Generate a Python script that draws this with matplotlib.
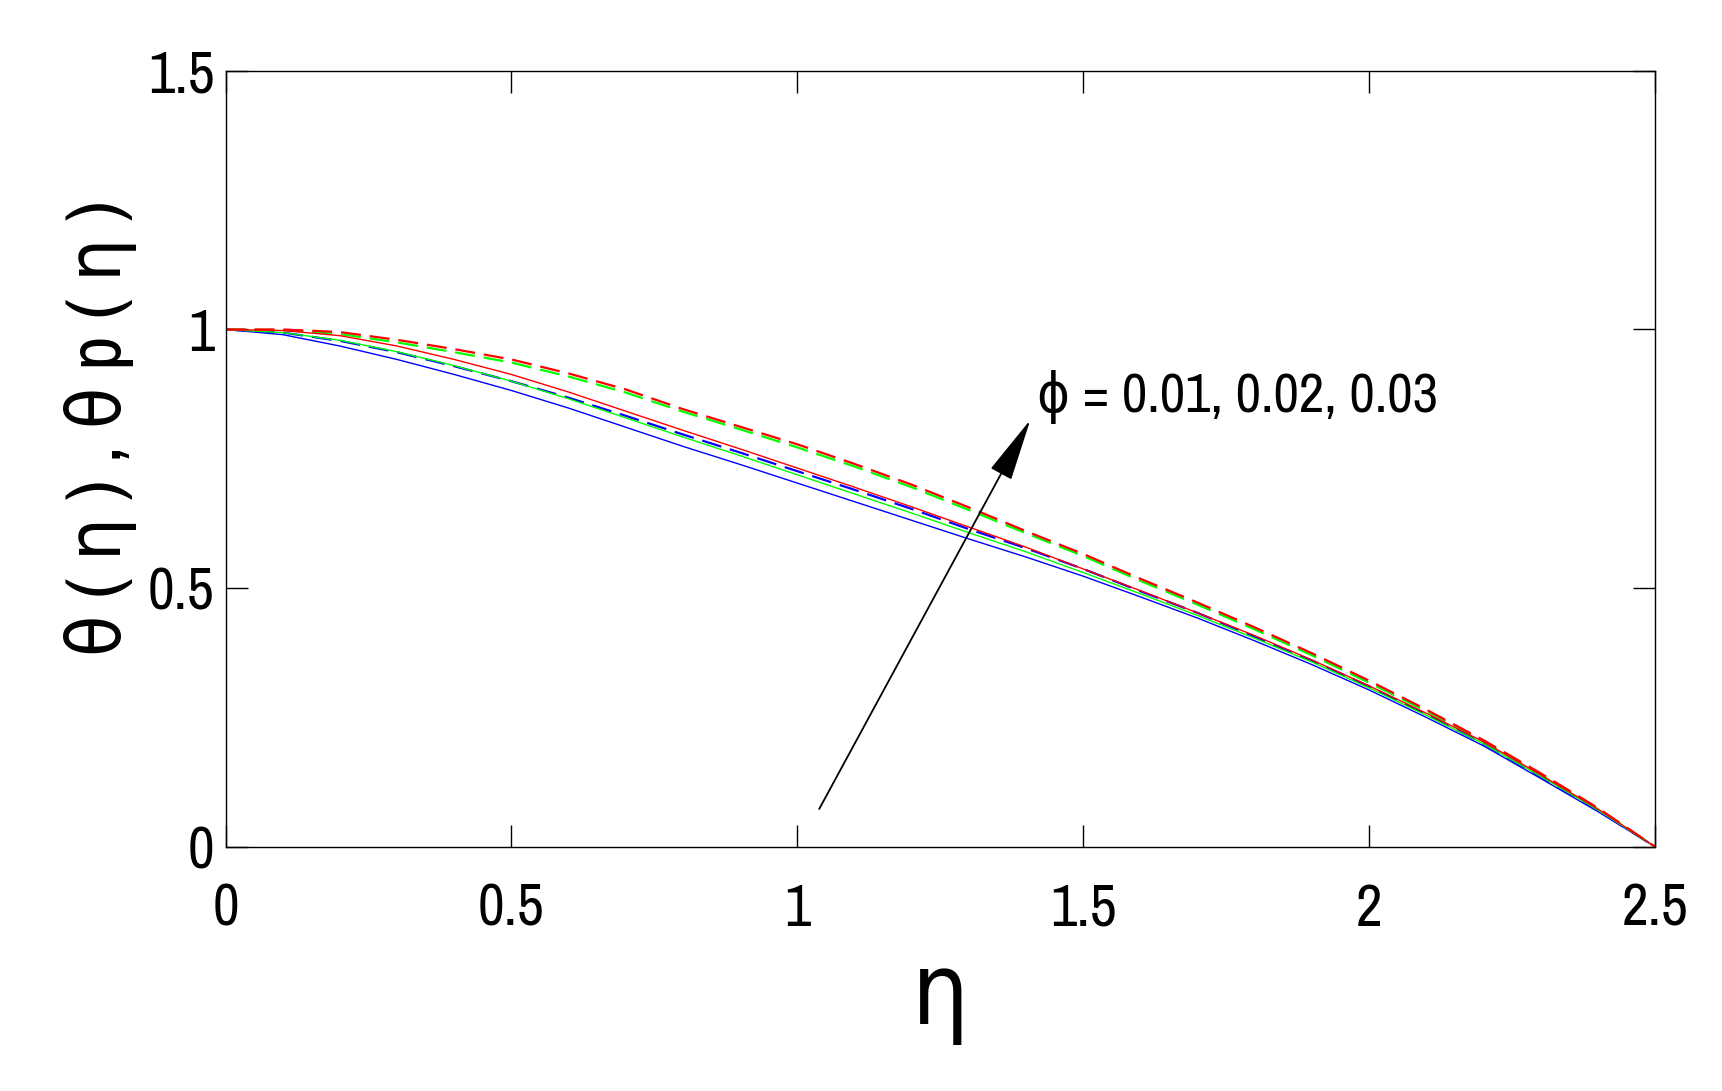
import numpy as np
import matplotlib
matplotlib.use('Agg')
import matplotlib.pyplot as plt
from matplotlib import font_manager

# eta grid and curves (step 0.1)
eta = [0.0, 0.1, 0.2, 0.3, 0.4, 0.5, 0.6, 0.7, 0.8, 0.9, 1.0, 1.1, 1.2,
       1.3, 1.4, 1.5, 1.6, 1.7, 1.8, 1.9, 2.0, 2.1, 2.2, 2.3, 2.4, 2.5]

# theta(eta), solid lines
theta_001 = [1.000, 0.990, 0.968, 0.942, 0.913, 0.882, 0.848, 0.811, 0.774,
             0.739, 0.703, 0.667, 0.631, 0.595, 0.560, 0.523, 0.483, 0.442,
             0.398, 0.352, 0.303, 0.250, 0.195, 0.132, 0.068, 0.000]
theta_002 = [1.000, 0.994, 0.979, 0.957, 0.930, 0.900, 0.866, 0.829, 0.792,
             0.756, 0.719, 0.682, 0.645, 0.607, 0.570, 0.530, 0.489, 0.447,
             0.403, 0.357, 0.307, 0.254, 0.199, 0.136, 0.071, 0.000]
theta_003 = [1.000, 0.998, 0.988, 0.968, 0.942, 0.913, 0.879, 0.842, 0.805,
             0.769, 0.732, 0.695, 0.657, 0.618, 0.579, 0.537, 0.495, 0.452,
             0.408, 0.361, 0.311, 0.258, 0.203, 0.139, 0.073, 0.000]

# theta_p(eta), dashed lines
thetap_001 = [1.000, 0.994, 0.978, 0.956, 0.929, 0.900, 0.868, 0.833, 0.797,
              0.762, 0.726, 0.690, 0.653, 0.614, 0.577, 0.537, 0.494, 0.452,
              0.406, 0.360, 0.310, 0.256, 0.199, 0.135, 0.070, 0.000]
thetap_002 = [1.000, 0.999, 0.991, 0.975, 0.956, 0.936, 0.909, 0.878, 0.841,
              0.807, 0.772, 0.735, 0.695, 0.651, 0.606, 0.562, 0.514, 0.468,
              0.420, 0.370, 0.317, 0.262, 0.204, 0.140, 0.074, 0.000]
thetap_003 = [1.000, 1.000, 0.995, 0.980, 0.962, 0.942, 0.915, 0.884, 0.846,
              0.812, 0.778, 0.740, 0.700, 0.656, 0.610, 0.566, 0.518, 0.472,
              0.424, 0.374, 0.321, 0.265, 0.206, 0.142, 0.075, 0.000]

colors = ['#0000ff', '#00ff00', '#ff0000']

# look for a narrow/condensed face, the reference text is very condensed
narrow = None
for key in ['narrow', 'condensed']:
    for f in font_manager.fontManager.ttflist:
        if f.style == 'normal' and f.weight in (400, 'normal', 'regular') and \
                (key in f.fname.lower() or key in f.name.lower()):
            narrow = f
            break
    if narrow:
        break


def fp(size):
    # greek letters fall back to DejaVu Sans
    if narrow is not None:
        return font_manager.FontProperties(family=[narrow.name, 'DejaVu Sans'],
                                           stretch=narrow.stretch, size=size)
    return font_manager.FontProperties(family='DejaVu Sans', size=size)


fig = plt.figure(figsize=(17.22, 10.91), dpi=100)
ax = fig.add_axes([0.131, 0.224, 0.830, 0.711])

for th, thp, c in zip([theta_001, theta_002, theta_003],
                      [thetap_001, thetap_002, thetap_003], colors):
    ax.plot(eta, th, color=c, lw=1.0)
    ax.plot(eta, thp, color=c, lw=1.6, linestyle=(0, (9, 4)))

ax.set_xlim(0, 2.5)
ax.set_ylim(0, 1.5)
ax.set_xticks([0, 0.5, 1, 1.5, 2, 2.5])
ax.set_xticklabels(['0', '0.5', '1', '1.5', '2', '2.5'], fontproperties=fp(42))
ax.set_yticks([0, 0.5, 1, 1.5])
ax.set_yticklabels(['0', '0.5', '1', '1.5'], fontproperties=fp(42))
ax.tick_params(direction='in', length=16, width=1.0, top=True, right=True)
ax.tick_params(axis='x', pad=26)
ax.tick_params(axis='y', pad=8)
for s in ax.spines.values():
    s.set_linewidth(1.0)

ax.set_xlabel('η', fontproperties=fp(72))
ax.xaxis.set_label_coords(0.5, -0.14)
ax.set_ylabel('θ ( η ) , θ p ( η )', fontproperties=fp(54))
ax.yaxis.set_label_coords(-0.062, 0.54)

# arrow showing increasing phi
ax.annotate('', xy=(1.41, 0.83), xytext=(1.036, 0.068),
            arrowprops=dict(arrowstyle='-|>,head_length=4.0,head_width=0.75',
                            color='black', lw=1.3))
ax.text(1.42, 0.87, 'ϕ = 0.01, 0.02, 0.03', fontproperties=fp(40),
        ha='left', va='center')

fig.savefig('out.png', dpi=100)
